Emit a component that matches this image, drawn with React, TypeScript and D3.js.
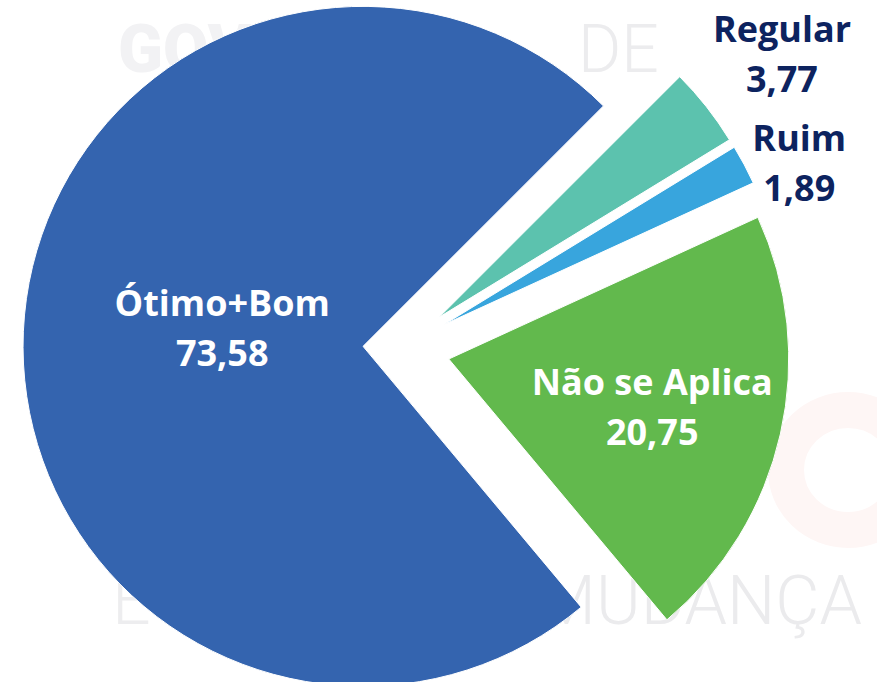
import React, { useEffect, useRef } from 'react';
import * as d3 from 'd3';

// Survey answers, in clockwise order starting at the upper right
const categories = ['Regular', 'Ruim', 'Não se Aplica', 'Ótimo+Bom'];
const values = [3.77, 1.89, 20.75, 73.58];
const valueLabels = ['3,77', '1,89', '20,75', '73,58'];
const sliceColors = ['#5CC2AE', '#38A5DD', '#62B94D', '#3464AF'];
const labelColors = ['#0D235F', '#0D235F', '#ffffff', '#ffffff'];

// how far each slice is pulled out of the pie, and where its label sits
const explode = [50, 50, 50, 37];
const labelRadius = [432, 390, 209, 142];
const labelShift = [0.7, 3.6, 0.5, 4.8];

const width = 877;
const height = 682;

export default function App() {
  const svgRef = useRef<SVGSVGElement>(null);

  useEffect(() => {
    if (!svgRef.current) return;
    const svg = d3.select(svgRef.current);
    svg.selectAll('*').remove();

    const cx = 400;
    const cy = 348;
    const radius = 340;
    const start = (45 * Math.PI) / 180;

    // faint background watermark
    const wm = svg.append('g').attr('class', 'watermark');
    wm.append('ellipse')
      .attr('cx', 848)
      .attr('cy', 470)
      .attr('rx', 62)
      .attr('ry', 60)
      .attr('fill', 'none')
      .attr('stroke', '#fef6f5')
      .attr('stroke-width', 36);
    wm.append('text')
      .attr('x', 118)
      .attr('y', 72)
      .attr('font-family', 'Roboto, sans-serif')
      .attr('font-weight', 900)
      .attr('font-size', 66)
      .attr('fill', '#f2f2f4')
      .text('GOVERNO');
    wm.append('text')
      .attr('x', 578)
      .attr('y', 72)
      .attr('font-family', 'Roboto, sans-serif')
      .attr('font-weight', 300)
      .attr('font-size', 66)
      .attr('fill', '#ececee')
      .text('DE');
    wm.append('text')
      .attr('x', 112)
      .attr('y', 624)
      .attr('font-family', 'Roboto, sans-serif')
      .attr('font-weight', 300)
      .attr('font-size', 68)
      .attr('fill', '#ededef')
      .text('E');
    wm.append('text')
      .attr('x', 862)
      .attr('y', 624)
      .attr('text-anchor', 'end')
      .attr('font-family', 'Roboto, sans-serif')
      .attr('font-weight', 300)
      .attr('font-size', 68)
      .attr('fill', '#ebebed')
      .text('MUDANÇA');

    const pie = d3
      .pie<number>()
      .sort(null)
      .value((d) => d)
      .startAngle(start)
      .endAngle(start + 2 * Math.PI);

    const arcs = pie(values);
    const arc = d3.arc<d3.PieArcDatum<number>>().innerRadius(0).outerRadius(radius);

    const g = svg.append('g').attr('transform', `translate(${cx},${cy})`);

    const offset = (a: number, r: number) => [Math.sin(a) * r, -Math.cos(a) * r];

    g.selectAll('path.slice')
      .data(arcs)
      .enter()
      .append('path')
      .attr('class', 'slice')
      .attr('d', arc)
      .attr('fill', (_d, i) => sliceColors[i])
      .attr('stroke', '#ffffff')
      .attr('stroke-width', 1)
      .attr('transform', (d, i) => {
        const [dx, dy] = offset((d.startAngle + d.endAngle) / 2, explode[i]);
        return `translate(${dx},${dy})`;
      });

    // data labels: category on the first line, value below
    const labels = g
      .selectAll('g.label')
      .data(arcs)
      .enter()
      .append('g')
      .attr('class', 'label')
      .attr('transform', (d, i) => {
        const mid = (d.startAngle + d.endAngle) / 2;
        const [ex, ey] = offset(mid, explode[i]);
        const [lx, ly] = offset(mid + (labelShift[i] * Math.PI) / 180, labelRadius[i]);
        return `translate(${ex + lx},${ey + ly})`;
      })
      .attr('text-anchor', 'middle')
      .attr('font-family', '"Open Sans", sans-serif')
      .attr('font-weight', 700)
      .attr('font-size', 36)
      .attr('fill', (_d, i) => labelColors[i]);

    labels.append('text').attr('y', -12).text((_d, i) => categories[i]);
    labels.append('text').attr('y', 38).text((_d, i) => valueLabels[i]);
  }, []);

  return (
    <svg
      ref={svgRef}
      width={width}
      height={height}
      style={{ position: 'absolute', left: 0, top: 0, background: '#ffffff' }}
    />
  );
}
